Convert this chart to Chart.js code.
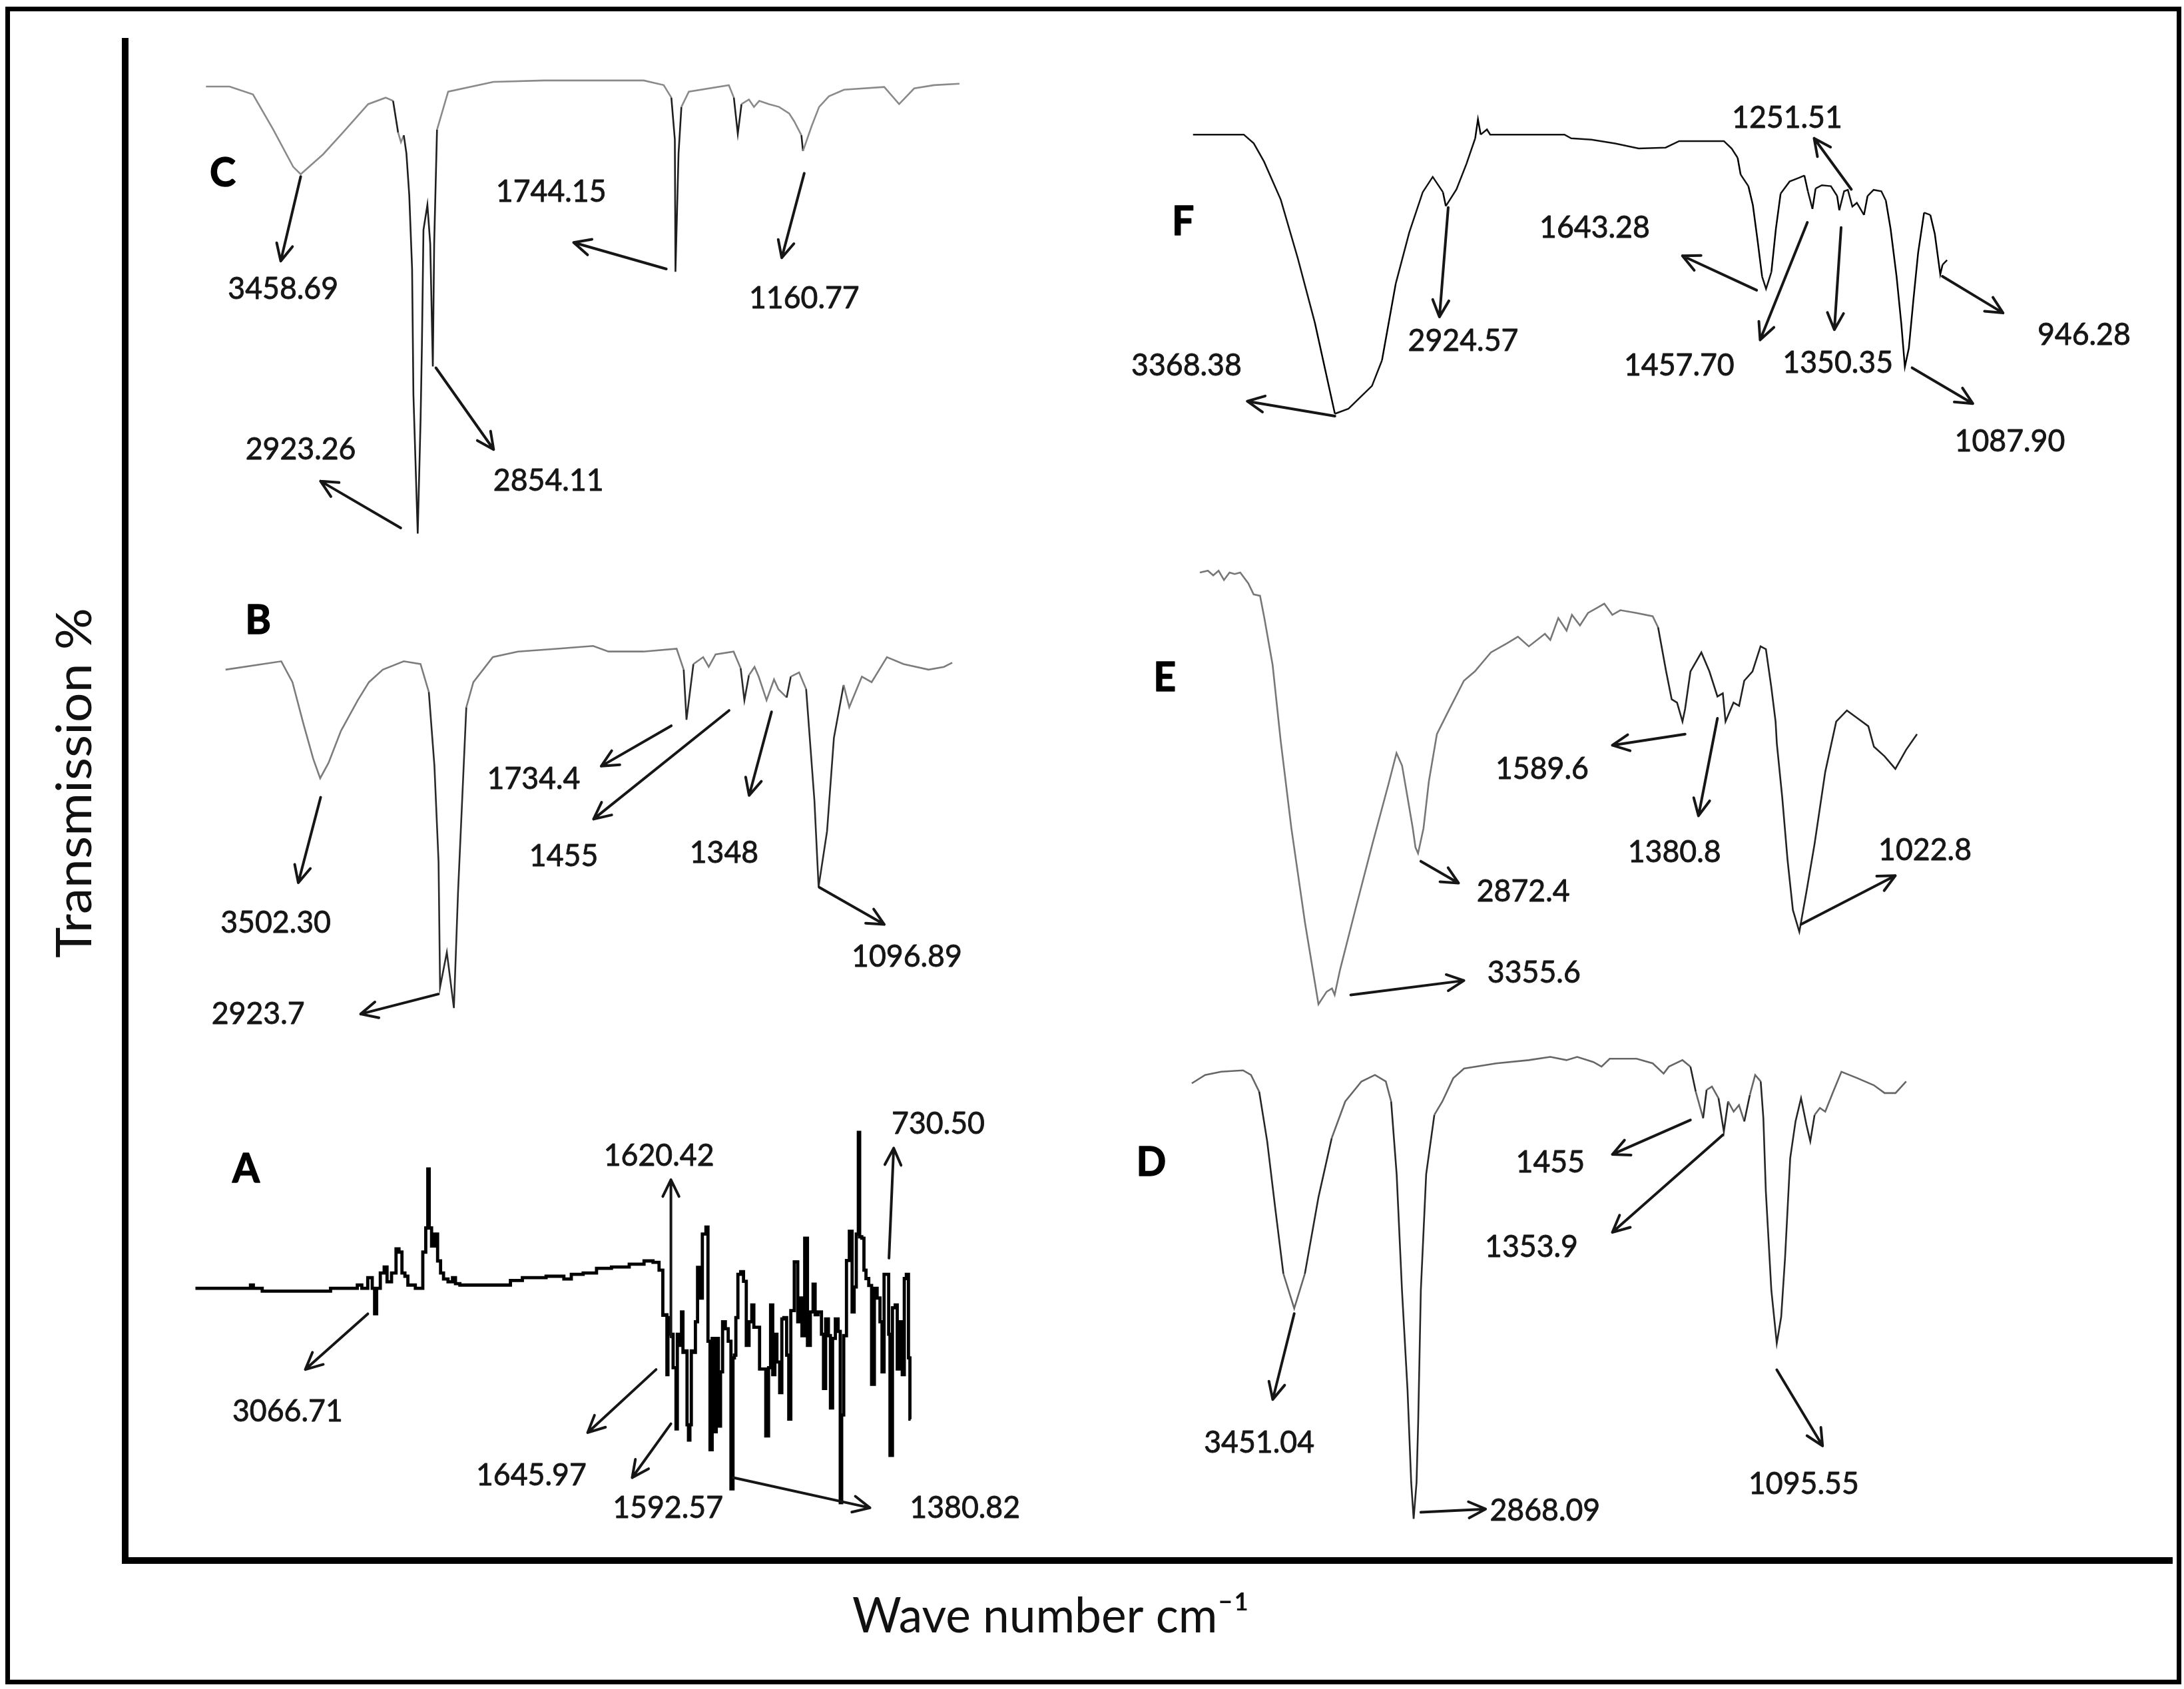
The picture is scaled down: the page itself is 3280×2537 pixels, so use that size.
<!DOCTYPE html>
<html>
<head>
<meta charset="utf-8">
<title>FTIR spectra A-F</title>
<script src="https://cdn.jsdelivr.net/npm/chart.js@4.4.1/dist/chart.umd.min.js"></script>
<style>
  html, body { margin: 0; padding: 0; background: #fff; }
  #page { position: relative; width: 3280px; height: 2537px; overflow: hidden; background: #fff; }
  #frame { position: absolute; left: 8px; top: 10px; width: 3268px; height: 2520px; border: 7px solid #000; box-sizing: border-box; }
  canvas { position: absolute; }
</style>
</head>
<body>
<div id="page">
  <div id="frame"></div>
  <canvas id="axes" width="3280" height="2537" style="left:0;top:0"></canvas>
</div>
<script>
// ---- data (wavenumber cm-1, transmission %) ----
const C_WAVENUMBER = [3892, 3784, 3677, 3585, 3493, 3458.69, 3356, 3265, 3150, 3070,
  3036, 3013, 3000, 2987, 2975, 2962, 2949, 2943, 2923.26, 2910,
  2904, 2897, 2879, 2866, 2854.11, 2848, 2835, 2784, 2577, 2347,
  1889, 1798, 1763, 1747, 1744.15, 1730, 1717, 1683, 1500, 1477,
  1459, 1442, 1408, 1385, 1361, 1316, 1270, 1224, 1201, 1168,
  1160.77, 1121, 1087, 1042, 973, 789, 721, 652, 561, 445];
const C_TRANSMISSION = [99.4, 99.4, 97.7, 90.2, 82.1, 80.5, 84.8, 89.5, 95.6, 97,
  96.3, 89.5, 87.4, 88.9, 85, 76, 60.1, 33.1, 3.1, 28,
  43.9, 68.5, 73.9, 65.5, 39.1, 65.5, 90.1, 98.3, 100.4, 100.7,
  100.7, 99.7, 97, 88, 59.5, 85, 95, 98.3, 99.7, 97,
  89.2, 95.6, 96.6, 95, 96.3, 95.6, 95, 93.6, 91.9, 88.9,
  85.5, 90.9, 95, 97.3, 98.7, 99.3, 95.6, 99, 99.7, 100];
const C_PEAKS = ['3458.69', '1744.15', '1160.77', '2923.26', '2854.11'];

const B_WAVENUMBER = [3959, 3690, 3636, 3583, 3536, 3502.3, 3462, 3402, 3321, 3267,
  3200, 3099, 3018, 2978, 2951, 2931, 2923.7, 2891, 2857, 2837,
  2797, 2763, 2669, 2548, 2360, 2185, 2111, 1943, 1782, 1748,
  1734.4, 1701, 1654, 1627, 1594, 1507, 1473, 1455, 1433, 1406,
  1386, 1348, 1312, 1291, 1251, 1231, 1191, 1157, 1117, 1096.89,
  1056, 1023, 976, 949, 888, 841, 767, 687, 566, 492, 452];
const B_TRANSMISSION = [95.2, 97, 92.5, 83.5, 76, 71.8, 75.1, 82, 88.6, 92.5,
  95.2, 97, 96.4, 90.4, 74.5, 53.8, 26.8, 34.3, 22.3, 47.2,
  87.1, 92.5, 97.9, 99.1, 99.7, 100.3, 99.1, 99.1, 99.7, 95.2,
  84.4, 96.4, 97.9, 95.8, 98.5, 99.1, 95.5, 88.6, 94, 95.8,
  93.7, 88.6, 93.1, 91, 89.2, 93.7, 94.6, 91, 67, 48.4,
  60.4, 80.5, 91.9, 87.1, 93.7, 92.5, 97.9, 96.4, 95.2, 95.8, 96.7];
const B_PEAKS = ['3502.30', '2923.7', '1734.4', '1455', '1348', '1096.89'];

const A_WAVENUMBER = [3948, 3686, 3671, 3658, 3584, 3294, 3279, 3163, 3148, 3119,
  3090, 3075, 3066.71, 3055, 3031, 3017, 3003, 2973, 2959, 2944,
  2930, 2915, 2901, 2842, 2828, 2813, 2808, 2799, 2785, 2770,
  2755, 2741, 2726, 2697, 2682, 2668, 2639, 2421, 2391, 2304,
  2159, 2130, 2086, 2014, 1955, 1868, 1781, 1723, 1693, 1664,
  1656, 1643, 1637, 1633, 1620.42, 1599, 1592, 1586, 1572, 1565,
  1558, 1545, 1538, 1531, 1524, 1517, 1504, 1497, 1483, 1477,
  1456, 1442, 1436, 1422, 1415, 1402, 1395, 1381, 1374, 1361,
  1347, 1333, 1320, 1313, 1306, 1299, 1286, 1272, 1258, 1245,
  1231, 1218, 1211, 1190, 1183, 1163, 1149, 1136, 1129, 1115,
  1108, 1095, 1081, 1074, 1061, 1047, 1040, 1027, 1006, 993,
  986, 972, 959, 945, 931, 918, 911, 890, 877, 870,
  856, 843, 836, 822, 809, 795, 788, 781, 768, 754,
  740, 727, 720, 706, 700, 693, 679, 672, 659, 645,
  631, 618, 604, 590, 584, 570, 556, 553, 543, 529,
  516, 509, 495, 481, 475, 461, 454, 447];
const A_TRANSMISSION = [62.5, 62.5, 63.2, 62.5, 61.9, 61.9, 62.5, 62.5, 63.2, 62.5,
  64.8, 62.5, 57, 62.5, 65.8, 67.1, 63.9, 65.8, 71, 70.3,
  65.8, 65.1, 63.2, 62.5, 70.3, 75.5, 88.2, 75.5, 71.6, 74.2,
  68.4, 65.8, 64.5, 63.9, 64.8, 63.5, 63.2, 63.2, 64.2, 64.8,
  65.1, 64.5, 65.5, 65.8, 66.8, 67.1, 67.7, 68.4, 68.1, 66.4,
  56.7, 56.8, 43.9, 56.2, 52.6, 45.4, 32.2, 52.6, 50.2, 57.4,
  48.7, 49, 33.1, 29.8, 33.1, 49, 48.7, 55.3, 67, 60.4,
  74.2, 75.7, 51.1, 27.7, 51.7, 31.6, 51.7, 32.8, 44.5, 55.3,
  53.8, 51.1, 19.3, 47.5, 48.1, 56.2, 65.5, 66.1, 64, 50.2,
  55.3, 58.9, 54.1, 54.1, 45.1, 45.1, 30.7, 45.4, 58.9, 43.9,
  52.6, 46.6, 40, 55.9, 56.2, 48.1, 34.3, 57.7, 68.2, 55.3,
  60.4, 52.3, 73.3, 50.2, 57.4, 63.4, 56.8, 57.4, 52.6, 40.9,
  55.9, 52.3, 36.7, 51.7, 55.9, 53.2, 16.3, 35.2, 52.3, 68.5,
  74.8, 57.4, 62.8, 74.2, 96.1, 73.6, 73.3, 66.4, 64.6, 63.1,
  41.8, 62.5, 60.4, 55.3, 44.5, 65.5, 65.5, 52.6, 26.5, 58.3,
  58.9, 45.1, 55.3, 43.9, 64.6, 65.5, 47.5, 34.3];
const A_PEAKS = ['3066.71', '1620.42', '730.50', '1645.97', '1592.57', '1380.82'];

const F_WAVENUMBER = [3936, 3733, 3693, 3652, 3585, 3517, 3449, 3368.38, 3314, 3220,
  3180, 3125, 3071, 3017, 2977, 2936, 2924.57, 2882, 2842, 2807,
  2796, 2785, 2760, 2747, 2450, 2423, 2342, 2247, 2153, 2045,
  1991, 1812, 1781, 1757, 1745, 1714, 1696, 1677, 1659, 1643.28,
  1622, 1604, 1585, 1549, 1512, 1490, 1476, 1457.70, 1445, 1420,
  1384, 1359, 1350.35, 1331, 1316, 1298, 1280, 1251.51, 1237, 1213,
  1182, 1164, 1145, 1121, 1102, 1087.90, 1072, 1054, 1035, 1011,
  986, 968, 946.28, 937, 919];
const F_TRANSMISSION = [98, 98, 96.1, 92.2, 84, 71.4, 57.6, 37.9, 39, 43.9,
  49.4, 65.9, 76.9, 85.6, 88.9, 85.6, 82.6, 86.2, 91.7, 97.2,
  101.3, 98, 99.1, 98, 98, 97.2, 96.9, 96.1, 95, 95.2,
  96.6, 96.6, 95, 93, 89.4, 86.9, 82.8, 75.1, 67.4, 64.8,
  68.4, 77.7, 85.3, 87.9, 88.7, 89.2, 85.8, 82, 86.4, 87.1,
  86.9, 84.8, 81.7, 85.8, 86.1, 82.5, 83.3, 80.7, 84.8, 86.1,
  85.8, 83.8, 77.7, 67.4, 57.2, 48, 52, 62.3, 72.5, 81.2,
  80.7, 76.6, 67.9, 70, 71];
const F_PEAKS = ['3368.38', '2924.57', '1643.28', '1457.70', '1350.35', '1251.51', '946.28', '1087.90'];

const E_WAVENUMBER = [3931, 3892, 3866, 3840, 3814, 3787, 3762, 3735, 3696, 3670,
  3639, 3618, 3578, 3539, 3487, 3421, 3355.6, 3316, 3290, 3277,
  3251, 3173, 3094, 3016, 2977, 2950, 2924, 2898, 2885, 2872.4,
  2846, 2820, 2781, 2728, 2650, 2597, 2519, 2440, 2388, 2335,
  2257, 2231, 2192, 2152, 2126, 2087, 2048, 1996, 1969, 1930,
  1891, 1813, 1734, 1708, 1669, 1642, 1616, 1589.6, 1577, 1551,
  1498, 1459, 1420, 1394, 1380.8, 1342, 1315, 1290, 1250, 1211,
  1185, 1159, 1138, 1132, 1106, 1080, 1054, 1022.8, 988, 949,
  897, 844, 792, 740, 688, 661, 609, 557, 505, 452];
const E_TRANSMISSION = [98.1, 98.5, 97.5, 98.5, 96.5, 98.1, 97.8, 98.1, 95.8, 93.4,
  93.1, 88.3, 78.2, 61.9, 43, 22.7, 5.1, 7.8, 8.5, 7.1,
  12.5, 26.1, 39.6, 52.5, 59.2, 56.5, 49.8, 43, 38.9, 37.6,
  43, 53.1, 63.3, 68, 74.8, 76.8, 80.9, 82.9, 84.3, 82.2,
  84.9, 83.6, 88.3, 85.6, 89, 86.7, 89.4, 90.7, 91.4, 89,
  90, 89.4, 88.7, 86.3, 76.8, 70.8, 70.1, 66, 68.7, 76.8,
  80.9, 76.8, 71.4, 72.1, 66, 70.1, 69.4, 74.8, 76.8, 82.2,
  81.6, 73.5, 66, 61.3, 49.8, 36.2, 25.4, 20.7, 29.4, 39.6,
  55.2, 66, 68.4, 66.7, 65, 60.6, 58.5, 55.8, 59.9, 63.3];
const E_PEAKS = ['1589.6', '1380.8', '2872.4', '3355.6', '1022.8'];

const D_WAVENUMBER = [3951, 3886, 3807, 3701, 3662, 3622, 3583, 3544, 3504, 3451.04,
  3399, 3333, 3268, 3202, 3123, 3057, 3004, 2978, 2951, 2925,
  2898, 2880, 2868.09, 2854, 2846, 2833, 2807, 2767, 2728, 2675,
  2622, 2465, 2306, 2201, 2122, 2070, 1991, 1951, 1911, 1780,
  1701, 1648, 1622, 1556, 1517, 1491, 1455, 1438, 1412, 1380,
  1353.9, 1333, 1306, 1280, 1254, 1227, 1201, 1174, 1161, 1149,
  1122, 1095.55, 1074, 1055, 1030, 1004, 977, 951, 932, 911,
  885, 859, 820, 780, 701, 622, 569, 516, 464];
const D_TRANSMISSION = [94.1, 95.9, 96.6, 96.9, 95.9, 92.3, 81.6, 67.3, 53.1, 45.6,
  53.1, 69.5, 82.3, 90.2, 94.5, 95.9, 94.5, 90.2, 74.5, 49.5,
  28.1, 8.1, 0.3, 8.1, 21, 49.5, 74.5, 87.3, 90.2, 95.2,
  97.3, 98.4, 99.1, 99.8, 99.1, 99.8, 98.7, 97.7, 99.4, 99.4,
  98.4, 96.2, 97.7, 99.1, 97.7, 92.3, 86.6, 92.7, 93.4, 90.9,
  83.7, 90.2, 88, 89.4, 85.9, 91.6, 95.9, 94.5, 86.6, 70.9,
  49.5, 38.1, 43.8, 56.6, 78, 85.9, 90.9, 85.2, 81.6, 87.3,
  88.8, 88, 92.3, 96.6, 95.2, 93.7, 92, 92, 94.5];
const D_PEAKS = ['3451.04', '2868.09', '1455', '1353.9', '1095.55'];

const X_TITLE = 'Wave number cm\u207B\u00B9';
const Y_TITLE = 'Transmission %';

// ---- layout ----
// arrows: [tail wn, tail T, head wn, head T, label wn, label T] in each panel's own scale
const C_ARROWS = [[3458.69, 80, 3550, 61.8, 3539, 55.7], [1786, 60.1, 2210, 65.8, 2313, 76.7],
  [1155, 80.7, 1258, 62.5, 1155, 53.7], [3001, 4.3, 3368, 14.4, 3458.69, 21.2], [2840, 38.8, 2576, 21.2, 2325, 14.4]];
const B_ARROWS = [[3500, 67.7, 3608, 49.3, 3717, 40.7], [2932, 25.3, 3307, 21, 3802, 21],
  [1808, 83.1, 2146, 74.4, 2472, 71.7], [1529, 86.4, 2183, 63, 2327, 55],
  [1324, 86.1, 1432, 68.1, 1553, 55.7], [1094, 48.3, 780, 40.3, 671, 33.3]];
const A_ARROWS = [[3104, 57, 3410, 45, 3497, 35.9], [1620.42, 52, 1620.42, 85.9, 1679, 91.1],
  [553, 69, 530, 92.7, 312, 97.9], [1693, 45, 2028, 31.4, 2304, 22.2],
  [1620.42, 33.3, 1810, 21.7, 1635, 15.1], [1315, 21.7, 646, 15.2, 181, 15.1]];
const F_ARROWS = [[3368.38, 37.4, 3719, 40.6, 3962, 48.3], [2915, 82.3, 2950, 58.75, 2855, 53.5],
  [1681, 64.5, 1978, 71.9, 2329, 78], [1478, 79.1, 1667, 53.8, 1991, 48.3],
  [1343, 78, 1370, 56, 1356, 48.9], [1302, 86.2, 1451, 97.2, 1559, 101.6],
  [938, 67.5, 695, 59.6, 371, 54.9], [1059, 47.8, 816, 40.1, 668, 31.9]];
const E_ARROWS = [[1577, 63.3, 1930, 60.9, 2271, 55.8], [1420, 66.7, 1512, 45.7, 1629, 37.9],
  [2859, 35.9, 2676, 31.2, 2362, 29.4], [3199, 7.1, 2650, 10.2, 2310, 11.9],
  [1015, 22.3, 557, 32.8, 413, 38.2]];
const D_ARROWS = [[3451, 44.5, 3556, 26, 3622, 16.7], [2833, 1.7, 2517, 2.4, 2227, 2],
  [1517, 86.2, 1898, 78.8, 2201, 77], [1359, 83, 1898, 62, 2293, 58.8],
  [1095.55, 32.4, 872, 16, 964, 7.8]];

const S = 3280 / 1568;   // reference was read at 1568 px wide

// box = [left, top, right, bottom] in reference units, x/y = scale ranges
// light/dark: thin flat parts print grey, steep drops print near black
const PANELS = [
  {name: 'C', wn: C_WAVENUMBER, t: C_TRANSMISSION, peaks: C_PEAKS, arrows: C_ARROWS,
   box: [100, 30, 780, 400], x: [-134, 4197.6], y: [-2, 109], tag: [3815, 80.8], light: '#8a8a8a', dark: '#1e1e1e', width: 2.6},
  {name: 'B', wn: B_WAVENUMBER, t: B_TRANSMISSION, peaks: B_PEAKS, arrows: B_ARROWS,
   box: [100, 395, 780, 745], x: [-193.7, 4375.9], y: [16, 121], tag: [3802, 105.8], light: '#7c7c7c', dark: '#2a2a2a', width: 2.6},
  {name: 'A', wn: A_WAVENUMBER, t: A_TRANSMISSION, peaks: A_PEAKS, arrows: A_ARROWS,
   box: [100, 770, 780, 1110], x: [-411.5, 4223.4], y: [7, 109], tag: [3700.6, 88.2], light: '#000', dark: '#000', width: 4.8, stepped: 'middle'},
  {name: 'F', wn: F_WAVENUMBER, t: F_TRANSMISSION, peaks: F_PEAKS, arrows: F_ARROWS,
   box: [790, 45, 1555, 345], x: [43, 4305.6], y: [23.5, 113.5], tag: [3976, 79.3], light: '#111', dark: '#000', width: 2.5},
  {name: 'E', wn: E_WAVENUMBER, t: E_TRANSMISSION, peaks: E_PEAKS, arrows: E_ARROWS,
   box: [790, 385, 1555, 735], x: [-756.1, 4412.2], y: [1, 106], tag: [4101.5, 75.5], light: '#777', dark: '#222', width: 2.6, darkBelow: 1720},
  {name: 'D', wn: D_WAVENUMBER, t: D_TRANSMISSION, peaks: D_PEAKS, arrows: D_ARROWS,
   box: [790, 735, 1555, 1105], x: [-804.5, 4395.9], y: [-4.1, 106.9], tag: [4149, 77], light: '#666', dark: '#262626', width: 2.6}
];

Chart.defaults.font.family = 'Lato';

function draw_arrow(ctx, x1, y1, x2, y2) {
  const ang = Math.atan2(y2 - y1, x2 - x1);
  const len = 28, spread = 0.45;
  ctx.beginPath();
  ctx.moveTo(x1, y1);
  ctx.lineTo(x2, y2);
  ctx.moveTo(x2 - len * Math.cos(ang - spread), y2 - len * Math.sin(ang - spread));
  ctx.lineTo(x2, y2);
  ctx.lineTo(x2 - len * Math.cos(ang + spread), y2 - len * Math.sin(ang + spread));
  ctx.stroke();
}

// centred text, slightly squeezed and thickened to look like the figure's face
function draw_text(ctx, text, x, y, font, squeeze, stroke){
  ctx.save();
  ctx.font = font;
  ctx.textAlign = 'center';
  ctx.textBaseline = 'middle';
  ctx.translate(x, y);
  ctx.scale(squeeze, 1);
  ctx.fillText(text, 0, 0);
  if (stroke) {
    ctx.lineWidth = stroke;
    ctx.strokeText(text, 0, 0);
  }
  ctx.restore();
}

function peak_notes(panel){
  return {
    id: 'peakNotes',
    afterDatasetsDraw(chart){
      const ctx = chart.ctx;
      const x = chart.scales.x, y = chart.scales.y;
      ctx.save();
      ctx.strokeStyle = '#161616';
      ctx.fillStyle = '#161616';
      ctx.lineWidth = 4;
      ctx.lineCap = 'round';
      ctx.lineJoin = 'round';
      panel.peaks.forEach((text, i) => {
        const a = panel.arrows[i];
        draw_arrow(ctx, x.getPixelForValue(a[0]), y.getPixelForValue(a[1]),
                        x.getPixelForValue(a[2]), y.getPixelForValue(a[3]));
        draw_text(ctx, text, x.getPixelForValue(a[4]), y.getPixelForValue(a[5]), '46px Lato', 0.97, 0.9);
      });
      ctx.fillStyle = '#000';
      ctx.strokeStyle = '#000';
      draw_text(ctx, panel.name, x.getPixelForValue(panel.tag[0]), y.getPixelForValue(panel.tag[1]), 'bold 62px Lato', 0.95, 1.5);
      ctx.restore();
    }
  };
}

function segment_colour(panel){
  return seg => {
    if (panel.darkBelow) {
      return panel.wn[seg.p0DataIndex] < panel.darkBelow ? panel.dark : panel.light;
    }
    const dx = Math.abs(seg.p1.x - seg.p0.x), dy = Math.abs(seg.p1.y - seg.p0.y);
    return dy > 4 * dx ? panel.dark : panel.light;
  };
}

// axis titles, fitted to the width they have in the figure
function fit_text(ctx, text, x, y, width, rotation){
  const w = ctx.measureText(text).width;
  ctx.save();
  ctx.translate(x, y);
  ctx.rotate(rotation);
  ctx.scale(width / w, 1);
  ctx.fillText(text, 0, 0);
  ctx.restore();
}

const axis_titles = {
  id: 'axisTitles',
  afterDraw(chart){
    const ctx = chart.ctx;
    ctx.save();
    ctx.fillStyle = '#111';
    ctx.font = '74px Lato';
    ctx.textAlign = 'center';
    ctx.textBaseline = 'alphabetic';
    fit_text(ctx, X_TITLE, 1578, 2452, 596, 0);
    fit_text(ctx, Y_TITLE, 137, 1176, 526, -Math.PI / 2);
    ctx.restore();
  }
};

// main axes: only the two thick axis lines
const axis_opts = {
  type: 'linear', min: 0, max: 1,
  grid: {display: false, drawTicks: false},
  ticks: {display: false},
  border: {display: true, color: '#000', width: 10}
};
new Chart(document.getElementById('axes'), {
  type: 'scatter',
  data: {datasets: []},
  options: {
    responsive: false, animation: false, devicePixelRatio: 1, events: [],
    layout: {padding: {left: 188, top: 62, right: 18, bottom: 193}, autoPadding: false},
    plugins: {legend: {display: false}, tooltip: {enabled: false}},
    scales: {x: Object.assign({position: 'bottom'}, axis_opts), y: Object.assign({position: 'left'}, axis_opts)}
  },
  plugins: [axis_titles]
});

// one chart per spectrum
const page = document.getElementById('page');
PANELS.forEach(panel => {
  const [l, t, r, b] = panel.box;
  const canvas = document.createElement('canvas');
  canvas.width = Math.round((r - l) * S);
  canvas.height = Math.round((b - t) * S);
  canvas.style.left = Math.round(l * S) + 'px';
  canvas.style.top = Math.round(t * S) + 'px';
  page.appendChild(canvas);

  new Chart(canvas, {
    type: 'line',
    data: {
      datasets: [{
        data: panel.wn.map((w, i) => ({x: w, y: panel.t[i]})),
        borderColor: panel.light,
        borderWidth: panel.width,
        segment: {borderColor: segment_colour(panel)},
        pointRadius: 0,
        tension: 0,
        fill: false,
        stepped: panel.stepped || false
      }]
    },
    options: {
      responsive: false, animation: false, devicePixelRatio: 1, events: [],
      layout: {padding: 0, autoPadding: false},
      plugins: {legend: {display: false}, tooltip: {enabled: false}},
      scales: {
        x: {type: 'linear', reverse: true, min: panel.x[0], max: panel.x[1], display: false},
        y: {type: 'linear', min: panel.y[0], max: panel.y[1], display: false}
      }
    },
    plugins: [peak_notes(panel)]
  });
});
</script>
</body>
</html>
